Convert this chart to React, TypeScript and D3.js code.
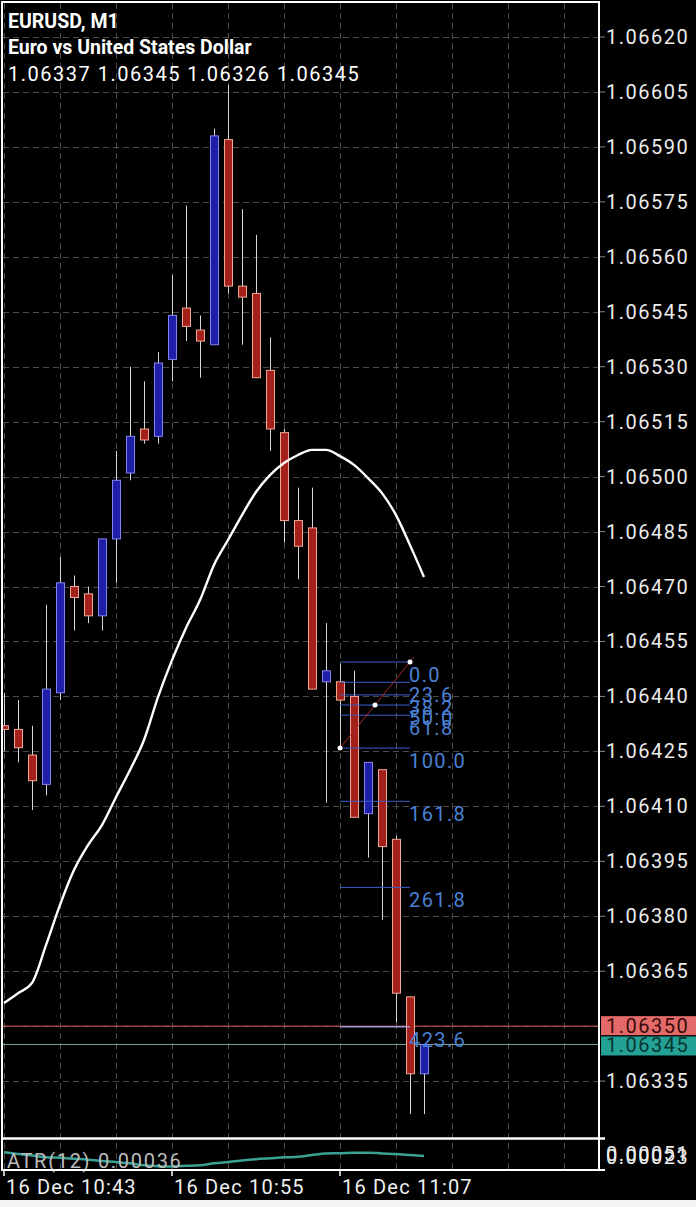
import React from 'react';
import * as d3 from 'd3';

const W = 696;
const H = 1207;

const times = ['10:43','10:44','10:45','10:46','10:47','10:48','10:49','10:50','10:51','10:52','10:53','10:54','10:55','10:56','10:57','10:58','10:59','11:00','11:01','11:02','11:03','11:04','11:05','11:06','11:07','11:08','11:09','11:10','11:11','11:12','11:13'];
const opens =  [1.06432,1.06431,1.06424,1.06416,1.06441,1.06470,1.06468,1.06462,1.06483,1.06501,1.06513,1.06511,1.06532,1.06546,1.06540,1.06536,1.06592,1.06552,1.06550,1.06529,1.06512,1.06488,1.06486,1.06444,1.06444,1.06440,1.06408,1.06420,1.06401,1.06358,1.06337];
const highs =  [1.06441,1.06439,1.06432,1.06465,1.06478,1.06473,1.06470,1.06483,1.06507,1.06530,1.06526,1.06534,1.06555,1.06574,1.06544,1.06595,1.06607,1.06573,1.06566,1.06538,1.06513,1.06497,1.06497,1.06460,1.06449,1.06447,1.06422,1.06420,1.06402,1.06358,1.06345];
const lows =   [1.06425,1.06422,1.06409,1.06413,1.06439,1.06458,1.06460,1.06458,1.06471,1.06499,1.06509,1.06509,1.06526,1.06537,1.06527,1.06536,1.06550,1.06536,1.06527,1.06507,1.06482,1.06472,1.06442,1.06411,1.06426,1.06407,1.06396,1.06379,1.06351,1.06326,1.06326];
const closes = [1.06431,1.06426,1.06417,1.06442,1.06471,1.06467,1.06462,1.06483,1.06499,1.06511,1.06510,1.06531,1.06544,1.06541,1.06537,1.06593,1.06552,1.06549,1.06527,1.06513,1.06488,1.06481,1.06442,1.06447,1.06439,1.06407,1.06422,1.06399,1.06359,1.06337,1.06345];
const maValues = [1.063563,1.063590,1.063618,1.063721,1.063831,1.063926,1.063994,1.064049,1.064125,1.064199,1.064281,1.064398,1.064499,1.064587,1.064663,1.064759,1.064827,1.064895,1.064958,1.065004,1.065037,1.065059,1.065073,1.065073,1.065056,1.065032,1.064996,1.064955,1.064895,1.064813,1.064726];
const atrValues = [0.00040,0.00038,0.000365,0.000345,0.00034,0.00033,0.00032,0.000305,0.000295,0.00028,0.00026,0.00025,0.000247,0.000253,0.00026,0.00028,0.000295,0.00031,0.000325,0.000335,0.000345,0.00035,0.00037,0.000387,0.00039,0.000395,0.000395,0.000387,0.00038,0.00037,0.00036];
const priceTicks = [1.06620,1.06605,1.06590,1.06575,1.06560,1.06545,1.06530,1.06515,1.06500,1.06485,1.06470,1.06455,1.06440,1.06425,1.06410,1.06395,1.06380,1.06365,1.06335];
const timeLabelIdx = [0, 12, 24];
const timeLabelText = ['16 Dec 10:43', '16 Dec 10:55', '16 Dec 11:07'];
const fibLevels = [0, 23.6, 38.2, 50, 61.8, 100, 161.8, 261.8, 423.6];
const fibLabels = ['0.0', '23.6', '38.2', '50.0', '61.8', '100.0', '161.8', '261.8', '423.6'];
const fibLowIdx = 24;
const fibLowPrice = 1.064259;
const fibHighIdx = 29;
const fibHighPrice = 1.064494;
const askPrice = 1.0635;
const bidPrice = 1.06345;
const atrTop = 0.00051;
const atrBottom = 0.00023;
const header1 = 'EURUSD, M1';
const header2 = 'Euro vs United States Dollar';
const ohlcText = '1.06337 1.06345 1.06326 1.06345';
const atrLabel = 'ATR(12) 0.00036';

export default function App() {
  const axisX = 599;
  const mainTop = 3;
  const mainBottom = 1138;
  const atrPanelTop = 1140;
  const atrPanelBottom = 1170;

  const x = d3.scaleLinear().domain([0, 30]).range([4, 424]);
  const y = d3.scaleLinear().domain([1.06335, 1.0662]).range([1081.1, 37]);
  const ya = d3.scaleLinear().domain([atrBottom, atrTop]).range([1168, 1142]);

  const gridXs = d3.range(0, 41, 4).map((i) => x(i));

  const maLine = d3.line<number>().x((_, i) => x(i)).y((d) => y(d)).curve(d3.curveMonotoneX);
  const atrLine = d3.line<number>().x((_, i) => x(i)).y((d) => ya(d)).curve(d3.curveMonotoneX);

  const fibRange = fibHighPrice - fibLowPrice;
  const font = 'Roboto, "Noto Sans", sans-serif';

  return (
    <svg width={W} height={H} style={{ position: 'absolute', left: 0, top: 0, display: 'block' }}>
      <defs>
        <clipPath id="mainClip">
          <rect x={3} y={mainTop} width={axisX - 3} height={mainBottom - mainTop} />
        </clipPath>
        <clipPath id="atrClip">
          <rect x={3} y={atrPanelTop} width={axisX - 3} height={atrPanelBottom - atrPanelTop} />
        </clipPath>
      </defs>
      <rect x={0} y={0} width={W} height={H} fill="#f3f3f3" />
      <rect x={0} y={0} width={W} height={1200} fill="#000" />

      {/* grid */}
      <g stroke="#4a4a4a" strokeWidth={1} strokeDasharray="6,4">
        {priceTicks.map((p) => (
          <line key={'h' + p} x1={3} x2={axisX} y1={Math.round(y(p)) + 0.5} y2={Math.round(y(p)) + 0.5} />
        ))}
        <line x1={3} x2={axisX} y1={1026.5} y2={1026.5} />
        {gridXs.map((gx) => (
          <line key={'v' + gx} x1={gx + 0.5} x2={gx + 0.5} y1={mainTop} y2={atrPanelBottom} />
        ))}
      </g>

      {/* ask / bid lines */}
      <line x1={3} x2={axisX} y1={y(askPrice)} y2={y(askPrice)} stroke="#d85a5a" strokeWidth={1} />
      <line x1={3} x2={axisX} y1={y(bidPrice)} y2={y(bidPrice)} stroke="#7aa59d" strokeWidth={1} />

      {/* candles */}
      <g clipPath="url(#mainClip)">
        {opens.map((o, i) => {
          const c = closes[i];
          const up = c >= o;
          const cx = Math.round(x(i)) + 0.5;
          const top = y(Math.max(o, c));
          const bot = y(Math.min(o, c));
          return (
            <g key={times[i]}>
              <line x1={cx} x2={cx} y1={y(highs[i])} y2={y(lows[i])} stroke="#d6d6d6" strokeWidth={1} />
              <rect
                x={cx - 4}
                y={top}
                width={8}
                height={Math.max(1, bot - top)}
                fill={up ? '#1e1ea6' : '#a3201b'}
                stroke={up ? '#8484f0' : '#f0a896'}
                strokeWidth={1}
              />
            </g>
          );
        })}
        {/* moving average */}
        <path d={maLine(maValues) || ''} fill="none" stroke="#fff" strokeWidth={2.4} />

        {/* fibonacci */}
        {fibLevels.map((lv, k) => {
          const py = y(fibHighPrice - (lv / 100) * fibRange);
          return (
            <g key={'f' + lv}>
              <line
                x1={x(fibLowIdx)}
                x2={x(fibHighIdx)}
                y1={py}
                y2={py}
                stroke={lv === 423.6 ? '#9a9ad8' : '#3d5fc8'}
                strokeWidth={lv === 423.6 ? 1.5 : 1}
              />
              <text
                x={409}
                y={py + 20}
                fill="#4a80d4"
                fontFamily={font}
                fontSize={20}
                letterSpacing={1.4}
              >
                {fibLabels[k]}
              </text>
            </g>
          );
        })}
        <line
          x1={x(fibLowIdx)}
          y1={y(fibLowPrice)}
          x2={x(fibHighIdx) + 4}
          y2={y(fibHighPrice) - 5}
          stroke="#b02a2a"
          strokeWidth={1}
        />
        <circle cx={x(fibLowIdx)} cy={y(fibLowPrice)} r={2.5} fill="#fff" />
        <circle cx={x(fibHighIdx)} cy={y(fibHighPrice)} r={2.5} fill="#fff" />
        <circle cx={(x(fibLowIdx) + x(fibHighIdx)) / 2} cy={(y(fibLowPrice) + y(fibHighPrice)) / 2} r={2.5} fill="#fff" />
      </g>

      {/* ATR */}
      <g clipPath="url(#atrClip)">
        <path d={atrLine(atrValues) || ''} fill="none" stroke="#3aa294" strokeWidth={2.5} />
      </g>
      <text x={7} y={1168} fill="#bdbdbd" fontFamily={font} fontSize={20} letterSpacing={1.7}>
        {atrLabel}
      </text>

      {/* frame */}
      <g stroke="#fff" fill="none">
        <line x1={2} x2={2} y1={mainTop - 1} y2={atrPanelBottom} strokeWidth={2} />
        <line x1={1} x2={axisX + 1} y1={mainTop - 1} y2={mainTop - 1} strokeWidth={2} />
        <line x1={axisX} x2={axisX} y1={mainTop - 2} y2={atrPanelBottom + 1} strokeWidth={2} />
        <line x1={1} x2={axisX + 6} y1={1138.5} y2={1138.5} strokeWidth={2.5} />
        <line x1={1} x2={axisX + 6} y1={atrPanelBottom} y2={atrPanelBottom} strokeWidth={2} />
        {timeLabelIdx.map((ti) => (
          <line key={'tt' + ti} x1={x(ti)} x2={x(ti)} y1={atrPanelBottom} y2={atrPanelBottom + 6} strokeWidth={1.5} />
        ))}
      </g>

      {/* price axis */}
      <g fontFamily={font} fontSize={20} letterSpacing={1.5}>
        {priceTicks.map((p) => (
          <g key={'l' + p}>
            <line x1={axisX + 1} x2={axisX + 6} y1={y(p)} y2={y(p)} stroke="#888" strokeWidth={1} />
            <text x={606} y={y(p) + 7} fill="#ececec">
              {p.toFixed(5)}
            </text>
          </g>
        ))}
        <rect x={601} y={y(askPrice) - 10} width={95} height={19} fill="#e46a6a" />
        <text x={606} y={y(askPrice) + 7} fill="#3a0a0a">
          {askPrice.toFixed(5)}
        </text>
        <rect x={601} y={y(bidPrice) - 8} width={95} height={19} fill="#24a195" />
        <text x={606} y={y(bidPrice) + 8} fill="#063630">
          {bidPrice.toFixed(5)}
        </text>
        <text x={606} y={1161} fill="#ececec">
          {atrTop.toFixed(5)}
        </text>
        <text x={606} y={1164} fill="#ececec">
          {atrBottom.toFixed(5)}
        </text>
      </g>

      {/* time axis */}
      <g fontFamily={font} fontSize={20} letterSpacing={1.2} fill="#f0f0f0">
        {timeLabelIdx.map((ti, k) => (
          <text key={'tl' + ti} x={x(ti) + 2} y={1194}>
            {timeLabelText[k]}
          </text>
        ))}
      </g>

      {/* header */}
      <g fontFamily={font} fill="#fff">
        <text x={8} y={28} fontSize={19.5} fontWeight={700}>
          {header1}
        </text>
        <text x={8} y={54} fontSize={19.5} fontWeight={700}>
          {header2}
        </text>
        <text x={8} y={81} fontSize={20} letterSpacing={1.5}>
          {ohlcText}
        </text>
      </g>
    </svg>
  );
}
